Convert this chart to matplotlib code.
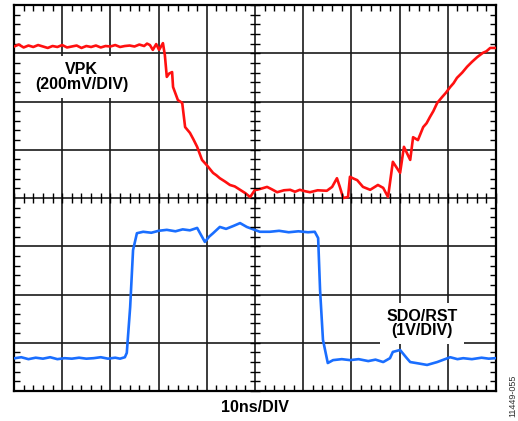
import matplotlib.pyplot as plt
from matplotlib.ticker import MultipleLocator

plt.rcParams['font.family'] = ['Liberation Sans', 'DejaVu Sans']

# time axis in divisions (10ns/DIV), amplitude in divisions
vpk_t = [0.00, 0.10, 0.20, 0.30, 0.40, 0.50, 0.60, 0.70, 0.80, 0.90, 1.00, 1.10, 1.20,
         1.30, 1.40, 1.50, 1.60, 1.70, 1.80, 1.90, 2.00, 2.10, 2.20, 2.30, 2.40, 2.50,
         2.60, 2.70, 2.76, 2.82, 2.88, 2.95, 3.01, 3.09, 3.13, 3.17, 3.22, 3.28, 3.30,
         3.40, 3.49, 3.55, 3.65, 3.72, 3.80, 3.90, 4.00, 4.13, 4.20, 4.27, 4.38, 4.48,
         4.58, 4.69, 4.80, 4.90, 5.00, 5.04, 5.15, 5.25, 5.35, 5.46, 5.60, 5.73, 5.83,
         5.93, 6.04, 6.14, 6.30, 6.49, 6.60, 6.70, 6.76, 6.83, 6.93, 6.97, 7.05, 7.12,
         7.24, 7.39, 7.47, 7.55, 7.66, 7.76, 7.86, 8.01, 8.09, 8.22, 8.28, 8.38, 8.49,
         8.56, 8.63, 8.70, 8.78, 8.88, 8.96, 9.05, 9.12, 9.19, 9.30, 9.40, 9.50, 9.61,
         9.73, 9.80, 9.88, 9.98]
vpk_v = [7.14, 7.18, 7.12, 7.16, 7.13, 7.17, 7.14, 7.11, 7.15, 7.13, 7.17, 7.12, 7.14,
         7.16, 7.11, 7.15, 7.13, 7.16, 7.12, 7.15, 7.14, 7.17, 7.13, 7.15, 7.16, 7.14,
         7.18, 7.15, 7.20, 7.17, 7.07, 7.19, 7.07, 7.21, 6.96, 6.51, 6.58, 6.61, 6.30,
         6.03, 5.97, 5.47, 5.35, 5.22, 5.06, 4.79, 4.68, 4.52, 4.47, 4.41, 4.34, 4.27,
         4.24, 4.17, 4.10, 4.02, 4.17, 4.17, 4.20, 4.23, 4.18, 4.12, 4.16, 4.17, 4.13,
         4.17, 4.14, 4.12, 4.16, 4.15, 4.23, 4.41, 4.23, 4.00, 4.02, 4.44, 4.40, 4.37,
         4.23, 4.17, 4.22, 4.27, 4.21, 4.02, 4.75, 4.52, 5.06, 4.79, 5.26, 5.20, 5.47,
         5.55, 5.68, 5.80, 5.97, 6.09, 6.18, 6.30, 6.38, 6.49, 6.60, 6.72, 6.82, 6.92,
         7.01, 7.04, 7.11, 7.11]

sdo_t = [0.02, 0.15, 0.30, 0.45, 0.60, 0.75, 0.90, 1.05, 1.20, 1.35, 1.50, 1.65, 1.80,
         1.95, 2.10, 2.20, 2.30, 2.34, 2.41, 2.47, 2.55, 2.68, 2.85, 3.00, 3.17, 3.35,
         3.50, 3.65, 3.80, 3.86, 3.96, 4.05, 4.13, 4.27, 4.40, 4.55, 4.69, 4.83, 5.10,
         5.31, 5.50, 5.70, 5.90, 6.10, 6.24, 6.31, 6.35, 6.41, 6.51, 6.62, 6.80, 6.97,
         7.15, 7.35, 7.50, 7.66, 7.80, 7.86, 8.01, 8.15, 8.22, 8.40, 8.57, 8.78, 9.05,
         9.20, 9.32, 9.50, 9.70, 9.85, 9.98]
sdo_v = [0.68, 0.70, 0.66, 0.69, 0.67, 0.70, 0.66, 0.68, 0.67, 0.69, 0.67, 0.68, 0.70,
         0.67, 0.69, 0.67, 0.70, 0.79, 1.74, 2.92, 3.27, 3.30, 3.28, 3.32, 3.34, 3.31,
         3.35, 3.33, 3.38, 3.27, 3.09, 3.20, 3.27, 3.40, 3.36, 3.42, 3.48, 3.40, 3.30,
         3.30, 3.32, 3.29, 3.31, 3.29, 3.30, 3.17, 2.09, 1.06, 0.58, 0.64, 0.66, 0.64,
         0.66, 0.62, 0.65, 0.60, 0.68, 0.81, 0.85, 0.68, 0.60, 0.57, 0.54, 0.60, 0.70,
         0.66, 0.68, 0.66, 0.69, 0.67, 0.68]

fig = plt.figure(figsize=(5.18, 4.21), dpi=100)
ax = fig.add_axes([14 / 518, 30 / 421, 482 / 518, 386 / 421])
ax.set_xlim(0, 10)
ax.set_ylim(0, 8)

ax.xaxis.set_major_locator(MultipleLocator(1))
ax.yaxis.set_major_locator(MultipleLocator(1))
ax.xaxis.set_minor_locator(MultipleLocator(0.2))
ax.yaxis.set_minor_locator(MultipleLocator(0.2))
ax.tick_params(which='both', direction='in', top=True, right=True,
               labelbottom=False, labelleft=False, color='black')
ax.tick_params(which='major', length=0)
ax.tick_params(which='minor', length=4, width=1)
ax.grid(True, which='major', color='#1a1a1a', lw=1.2)
for s in ax.spines.values():
    s.set_linewidth(1.6)

# center-line ticks
ax2 = fig.add_axes(ax.get_position(), frameon=True)
ax2.patch.set_visible(False)
ax2.set_xlim(0, 10)
ax2.set_ylim(0, 8)
for k in ['top', 'right']:
    ax2.spines[k].set_visible(False)
ax2.spines['left'].set_position(('data', 5))
ax2.spines['bottom'].set_position(('data', 4))
ax2.spines['left'].set_linewidth(0)
ax2.spines['bottom'].set_linewidth(0)
ax2.xaxis.set_major_locator(MultipleLocator(0.2))
ax2.yaxis.set_major_locator(MultipleLocator(0.2))
ax2.tick_params(direction='inout', length=7, width=1, labelbottom=False, labelleft=False)

ax.plot(vpk_t, vpk_v, color='#ff1010', lw=1.9, zorder=5)
ax.plot(sdo_t, sdo_v, color='#1a6eff', lw=1.9, zorder=5)

box = dict(facecolor='white', edgecolor='none', pad=4.5)
ax.text(1.40, 6.51, 'VPK\n(200mV/DIV)', ha='center', va='center', fontsize=11.5,
        fontweight='bold', linespacing=0.95, bbox=box, zorder=4)
ax.text(8.47, 1.40, 'SDO/RST\n(1V/DIV)', ha='center', va='center', fontsize=11.5,
        fontweight='bold', linespacing=0.95, bbox=box, zorder=4)

fig.text(255 / 518, 1 - 407 / 421, '10ns/DIV', ha='center', va='center',
         fontsize=11.5, fontweight='bold')
fig.text(513 / 518, 1 - 396 / 421, '11449-055', ha='center', va='center',
         rotation=90, fontsize=6.5, color='#333333')

fig.savefig('out.png', dpi=100)
